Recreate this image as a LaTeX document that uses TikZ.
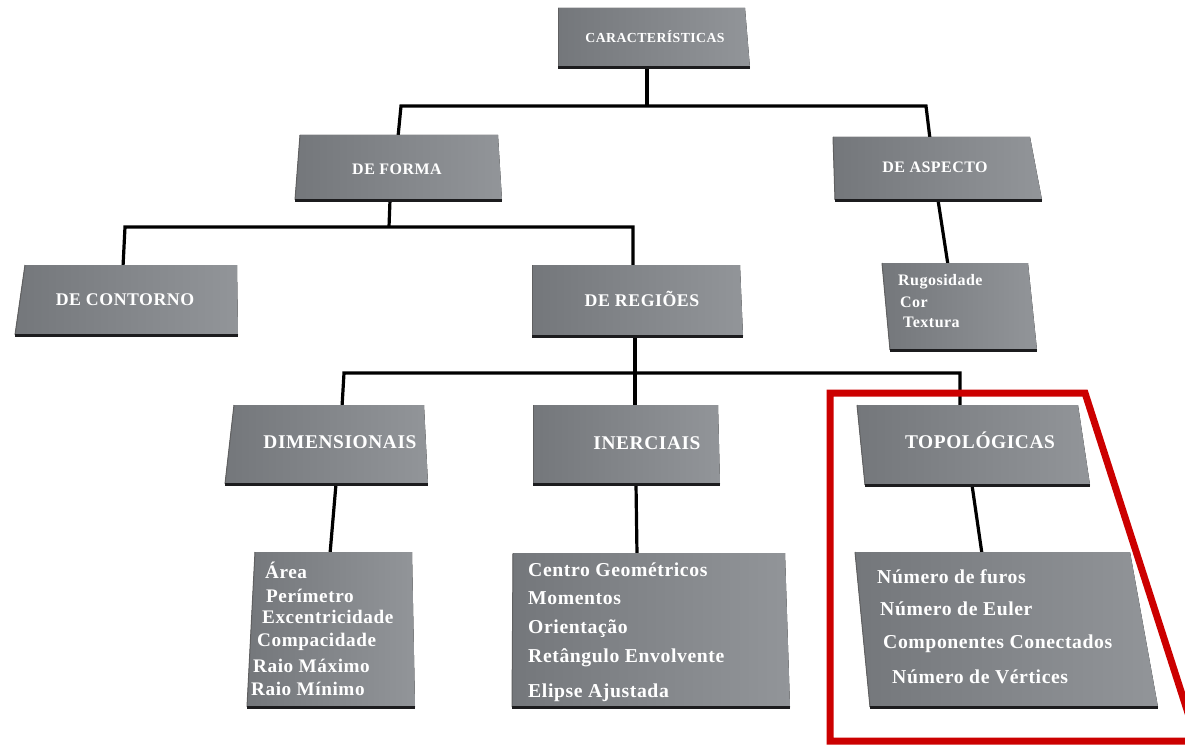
\documentclass[tikz,border=0pt]{standalone}
\usepackage{fontspec}
\newfontfamily\lbl{Liberation Serif}[LetterSpace=3]
\tikzset{
  platefill/.style={left color=plateL, right color=plateR},
  plateedge/.style={draw=plateDark, line width=3pt, line cap=butt},
  plateside/.style={draw=plateDark!70, line width=1pt},
  wire/.style={draw=black, line width=3.2pt, line join=miter},
  head/.style={text=white, anchor=base, inner sep=0pt, font=\lbl\bfseries\fontsize{#1}{#1}\selectfont},
  item/.style={text=white, anchor=base west, inner sep=0pt, font=\lbl\bfseries\fontsize{#1}{#1}\selectfont},
}
\definecolor{plateL}{RGB}{116,119,123}
\definecolor{plateR}{RGB}{146,149,153}
\definecolor{plateDark}{RGB}{28,28,30}
\definecolor{frameRed}{RGB}{204,0,0}

% \plate{name}{top-left x}{top-right x}{top y}{bottom-left x}{bottom-right x}{bottom y}
\newcommand\plate[7]{%
  \fill[platefill] (#2,#4) -- (#3,#4) -- (#6,#7) -- (#5,#7) -- cycle;
  \draw[plateside] (#2,#4) -- (#5,#7);
  \draw[plateedge] (#5,#7) -- (#6,#7);
}

\begin{document}
\begin{tikzpicture}[x=1pt,y=-1pt]
\useasboundingbox (0,0) rectangle (1185,746);

% connector end points and junctions
\coordinate (carac-out) at (647,68);
\coordinate (j0) at (647,106);
\coordinate (j0l) at (401,106);
\coordinate (j0r) at (926,106);
\coordinate (forma-in) at (398,137);
\coordinate (aspecto-in) at (930,139);
\coordinate (forma-out) at (390,200);
\coordinate (j1) at (389,227);
\coordinate (j1l) at (125,227);
\coordinate (j1r) at (633,227);
\coordinate (contorno-in) at (123,267);
\coordinate (regioes-in) at (633,267);
\coordinate (aspecto-out) at (938,200);
\coordinate (aspl-in) at (948,265);
\coordinate (regioes-out) at (635,336);
\coordinate (j2) at (635,373);
\coordinate (j2l) at (344,373);
\coordinate (j2r) at (960,373);
\coordinate (dimens-in) at (342,407);
\coordinate (inerc-in) at (635,407);
\coordinate (topol-in) at (960,407);
\coordinate (dimens-out) at (336,484);
\coordinate (diml-in) at (330,554);
\coordinate (inerc-out) at (636,484);
\coordinate (inerl-in) at (637,555);
\coordinate (topol-out) at (972,485);
\coordinate (topl-in) at (982,554);

% tree connectors
\draw[wire] (carac-out) -- (j0);
\draw[wire] (forma-in) -- (j0l) -- (j0r) -- (aspecto-in);
\draw[wire] (forma-out) -- (j1);
\draw[wire] (contorno-in) -- (j1l) -- (j1r) -- (regioes-in);
\draw[wire] (aspecto-out) -- (aspl-in);
\draw[wire] (regioes-out) -- (j2);
\draw[wire] (dimens-in) -- (j2l) -- (j2r) -- (topol-in);
\draw[wire] (j2) -- (inerc-in);
\draw[wire] (dimens-out) -- (diml-in);
\draw[wire] (inerc-out) -- (inerl-in);
\draw[wire] (topol-out) -- (topl-in);

% plates
\plate{carac}{558}{745}{8}{558}{750}{68}
\plate{forma}{300}{498}{135}{295}{502}{200}
\plate{aspecto}{833}{1030}{137}{835}{1042}{200}
\plate{contorno}{25}{237}{265}{15}{238}{335}
\plate{regioes}{532}{740}{265}{532}{743}{336}
\plate{aspl}{882}{1028}{263}{890}{1037}{350}
\plate{dimens}{234}{424}{405}{225}{428}{484}
\plate{inerc}{533}{718}{405}{533}{720}{484}
\plate{topol}{857}{1078}{405}{865}{1090}{485}
\plate{diml}{255}{412}{552}{247}{415}{707}
\plate{inerl}{513}{785}{553}{512}{790}{707}
\plate{topl}{855}{1130}{552}{870}{1158}{707}

% headings
\node[head=13.8] (t-carac) at (655,43) {CARACTERÍSTICAS};
\node[head=16] (t-forma) at (397,175) {DE FORMA};
\node[head=16] (t-aspecto) at (935,173) {DE ASPECTO};
\node[head=17.8] (t-contorno) at (125,305) {DE CONTORNO};
\node[head=17.8] (t-regioes) at (642,306) {DE REGIÕES};
\node[head=19.4] (t-dimens) at (340,448) {DIMENSIONAIS};
\node[head=19.4] (t-inerc) at (647,449) {INERCIAIS};
\node[head=19.4] (t-topol) at (980,448) {TOPOLÓGICAS};

% appearance items
\node[item=16] (a1) at (898,285) {Rugosidade};
\node[item=16] (a2) at (900,307) {Cor};
\node[item=16] (a3) at (903,327) {Textura};

% dimensional items
\node[item=19.2] (d1) at (265,578) {Área};
\node[item=19.2] (d2) at (266,602) {Perímetro};
\node[item=19.2] (d3) at (262,623) {Excentricidade};
\node[item=19.2] (d4) at (257,646) {Compacidade};
\node[item=19.2] (d5) at (253,672) {Raio Máximo};
\node[item=19.2] (d6) at (251,695) {Raio Mínimo};

% inertial items
\node[item=19.7] (i1) at (528,576) {Centro Geométricos};
\node[item=19.7] (i2) at (528,604) {Momentos};
\node[item=19.7] (i3) at (528,633) {Orientação};
\node[item=19.7] (i4) at (528,662) {Retângulo Envolvente};
\node[item=19.7] (i5) at (528,697) {Elipse Ajustada};

% topological items
\node[item=19.7] (p1) at (877,583) {Número de furos};
\node[item=19.7] (p2) at (880,615) {Número de Euler};
\node[item=19.7] (p3) at (883,648) {Componentes Conectados};
\node[item=19.7] (p4) at (892,683) {Número de Vértices};

% highlight frame around the topological branch
\begin{scope}
  \clip (0,0) rectangle (1185,746);
  \draw[frameRed, line width=7pt, line join=miter]
    (830,393) -- (1085,393) -- (1197,741) -- (830,741) -- cycle;
\end{scope}
\end{tikzpicture}
\end{document}
